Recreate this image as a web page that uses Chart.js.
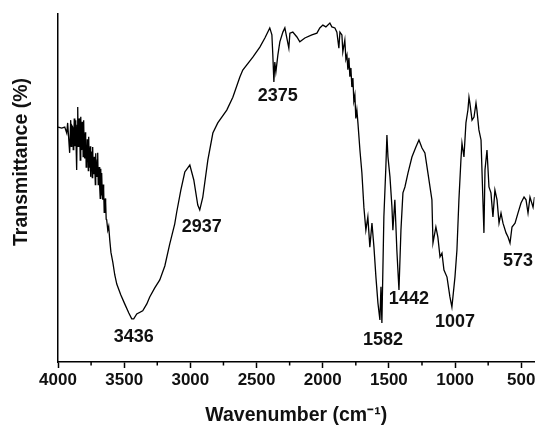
<!DOCTYPE html>
<html><head><meta charset="utf-8">
<script src="https://cdn.jsdelivr.net/npm/chart.js@4/dist/chart.umd.min.js"></script>
<style>html,body{margin:0;padding:0;background:#fff}#wrap{width:538px;height:428px}</style>
</head><body><div id="wrap"><canvas id="c" width="538" height="428"></canvas></div>
<script>
const wavenumbers = [4000,3972,3949,3934,3927,3912,3904,3900,3896,3889,3885,3881,3877,3873,3870,3866,3862,3859,3855,3851,3847,3843,3840,3836,3832,3828,3824,3821,3817,3813,3810,3806,3802,3798,3794,3791,3787,3783,3779,3775,3771,3768,3764,3760,3756,3753,3749,3745,3741,3738,3734,3730,3726,3722,3718,3715,3711,3707,3703,3700,3696,3692,3688,3685,3681,3677,3673,3670,3666,3662,3658,3655,3651,3647,3643,3640,3636,3632,3624,3617,3609,3600,3586,3571,3556,3526,3496,3465,3443,3428,3405,3360,3329,3307,3269,3231,3193,3156,3118,3103,3072,3042,3004,2974,2944,2929,2906,2868,2830,2793,2725,2679,2626,2604,2528,2475,2437,2400,2384,2377,2369,2362,2354,2339,2324,2301,2286,2271,2256,2248,2226,2195,2173,2135,2082,2044,2022,1999,1976,1946,1931,1908,1893,1878,1870,1855,1848,1833,1825,1817,1810,1802,1795,1787,1780,1772,1765,1757,1750,1742,1734,1719,1704,1689,1674,1659,1644,1628,1613,1598,1583,1568,1560,1553,1538,1523,1515,1507,1492,1477,1470,1455,1440,1424,1409,1394,1379,1356,1326,1296,1273,1250,1228,1205,1175,1167,1145,1130,1114,1099,1084,1061,1039,1024,1001,986,971,956,948,933,918,903,895,888,872,857,842,835,820,804,782,774,759,744,729,714,699,683,668,653,638,615,600,585,570,547,525,502,479,464,449,434,411,400];
const transmittance = [67.5,67.2,67.5,65.8,68.7,60.1,69.5,62.0,68.0,67.5,61.0,63.8,70.0,62.0,68.0,69.5,60.0,55.2,68.0,73.3,62.0,64.0,70.0,66.7,58.0,70.5,62.0,60.9,69.0,66.0,59.0,69.5,60.0,58.5,66.0,64.7,56.0,57.0,64.0,60.9,55.0,64.7,56.0,58.0,62.0,53.2,60.0,60.5,53.0,61.8,55.0,54.0,59.0,56.0,51.0,60.0,54.0,53.2,58.0,60.1,51.0,52.0,56.0,50.3,47.0,55.5,48.0,54.3,49.0,46.6,51.0,49.5,43.0,44.5,47.0,46.0,41.0,40.8,37.9,39.0,35.1,31.5,28.7,25.0,22.4,19.3,16.7,14.1,12.4,12.4,13.8,14.7,16.7,18.7,21.3,23.6,27.6,33.9,39.7,43.1,49.4,54.6,56.6,52.3,45.1,43.7,47.4,58.0,65.8,68.7,72.4,76.1,81.9,83.9,87.6,90.5,93.1,96.0,94.0,88.2,80.5,86.2,83.3,88.2,92.0,94.8,96.0,93.1,90.2,94.5,94.8,93.4,92.0,93.1,94.0,94.5,96.0,96.8,96.3,97.4,96.3,96.0,94.8,90.2,94.8,94.0,89.1,92.5,87.0,88.2,84.0,87.4,82.0,84.5,79.0,81.6,75.0,76.7,70.0,72.4,68.7,60.9,54.3,44.5,37.9,41.7,33.0,39.9,33.0,24.4,17.0,12.1,21.6,11.2,41.7,56.0,65.2,58.9,53.2,44.5,37.9,46.6,32.2,20.7,37.9,48.6,50.3,54.3,58.9,61.8,63.8,61.5,60.1,54.3,46.6,34.2,38.8,35.9,30.2,31.3,26.4,24.4,18.7,15.8,24.4,32.2,46.6,58.0,62.9,58.9,68.7,72.4,76.1,74.4,69.5,70.4,74.4,72.4,66.7,63.8,37.1,55.2,60.9,50.3,48.6,41.7,49.4,46.6,39.9,42.8,39.9,37.1,35.9,34.2,38.8,39.9,42.8,45.7,47.4,46.6,42.8,47.4,44.5,47.4];
const xTickValues = [4000,3500,3000,2500,2000,1500,1000,500];
const xMinorTickValues = [3750,3250,2750,2250,1750,1250,750];
const peakLabels = ['3436','2937','2375','1582','1442','1007','573'];

// where each peak label is placed, in data units (wavenumber, transmittance)
const labelPlacement = {
  wn: [3428,2914,2339,1545,1349,1001,525],
  t:  [7.2,38.8,76.4,6.3,18.1,11.5,29.0]
};

const FONT = '"Liberation Sans", Arial, sans-serif';

const overlay = {
  id: 'overlay',
  afterDraw(chart) {
    const {ctx, scales: {x, y}} = chart;
    ctx.save();
    ctx.strokeStyle = '#000';
    ctx.lineWidth = 1.5;
    xMinorTickValues.forEach(v => {
      const px = x.getPixelForValue(v);
      ctx.beginPath();
      ctx.moveTo(px, y.bottom);
      ctx.lineTo(px, y.bottom + 3.5);
      ctx.stroke();
    });
    ctx.fillStyle = '#111';
    ctx.textAlign = 'center';
    ctx.textBaseline = 'middle';
    ctx.font = 'bold 18px ' + FONT;
    peakLabels.forEach((t, i) => {
      ctx.fillText(t, x.getPixelForValue(labelPlacement.wn[i]), y.getPixelForValue(labelPlacement.t[i]));
    });
    ctx.translate(22, 162);
    ctx.rotate(-Math.PI / 2);
    ctx.font = 'bold 19.5px ' + FONT;
    ctx.fillText('Transmittance (%)', 0, 0);
    ctx.restore();
  }
};

new Chart(document.getElementById('c'), {
  type: 'line',
  data: {
    datasets: [{
      data: wavenumbers.map((w, i) => ({x: w, y: transmittance[i]})),
      borderColor: '#000',
      borderWidth: 1.3,
      pointRadius: 0,
      tension: 0,
      fill: false
    }]
  },
  options: {
    responsive: false,
    animation: false,
    devicePixelRatio: 1,
    layout: {padding: {top: 14, right: 3.5, left: 0, bottom: 0}},
    plugins: {legend: {display: false}, tooltip: {enabled: false}},
    scales: {
      x: {
        type: 'linear',
        reverse: true,
        min: 400,
        max: 4000,
        afterBuildTicks: s => { s.ticks = xTickValues.map(v => ({value: v})); },
        afterFit: s => { s.height = 66; },
        ticks: {font: {family: FONT, size: 17, weight: 'bold'}, color: '#111', padding: 2, maxRotation: 0, autoSkip: false,
                callback: v => String(v)},
        grid: {display: true, drawOnChartArea: false, drawTicks: true, tickLength: 6, tickColor: '#000', tickWidth: 1.5},
        border: {display: true, color: '#000', width: 1.5},
        title: {display: true, text: 'Wavenumber (cm\u207B\u00B9)', font: {family: FONT, size: 19.5, weight: 'bold'}, color: '#111', padding: {top: 0, bottom: 1}}
      },
      y: {
        min: 0,
        max: 100,
        afterFit: s => { s.width = 58; },
        ticks: {display: false},
        grid: {display: false},
        border: {display: true, color: '#000', width: 1.5}
      }
    }
  },
  plugins: [overlay]
});
</script>
</body></html>
